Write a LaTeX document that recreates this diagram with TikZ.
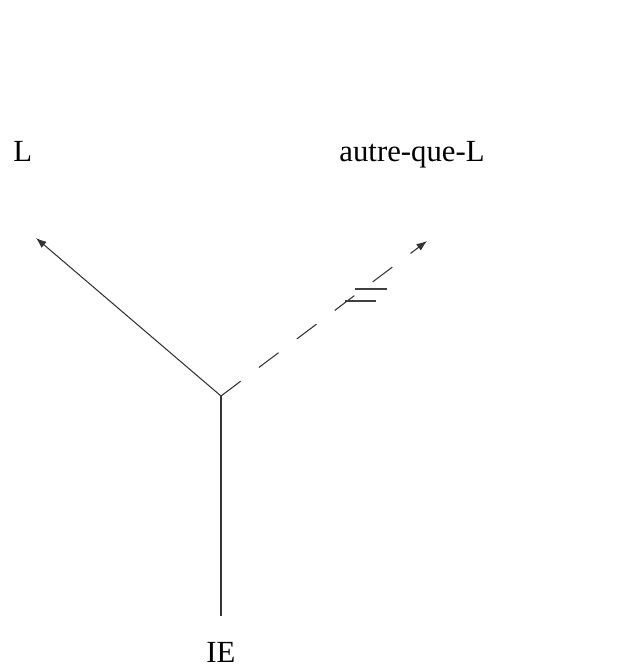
\documentclass[tikz,border=0pt]{standalone}
\usepackage{fontspec}
\setmainfont{Liberation Serif}
\usetikzlibrary{arrows.meta,positioning}

\begin{document}
\begin{tikzpicture}[
  x=0.02cm,y=-0.02cm,
  lbl/.style={font=\fontsize{17.5}{20}\selectfont,inner sep=0pt},
  branch/.style={line width=0.6pt,draw=black!80},
  arrow/.style={branch,-{Latex[length=6pt,width=4.5pt]}},
  dasharrow/.style={arrow,dash pattern=on 14pt off 13pt},
  hash/.style={line width=0.6pt,draw=black!75}
]
\useasboundingbox (0,0) rectangle (624,668);
\coordinate (jn) at (221,396);
\coordinate (bot) at (221,616);
\coordinate (tipL) at (36,238);
\coordinate (tipR) at (427,241);
\node[lbl,anchor=base west] (l) at (13,162) {L};
\node[lbl,anchor=base] (autre) at (412,162) {autre-que-L};
\node[lbl,anchor=base] (ie) at (221,662) {IE};
\draw[branch] (bot)--(jn);
\draw[arrow] (jn)--(tipL);
\draw[dasharrow] (jn)--(tipR);
% the two bars across the dashed branch
\draw[hash] (355,289)--(387,289);
\draw[hash] (345,301)--(376,301);
\end{tikzpicture}
\end{document}
